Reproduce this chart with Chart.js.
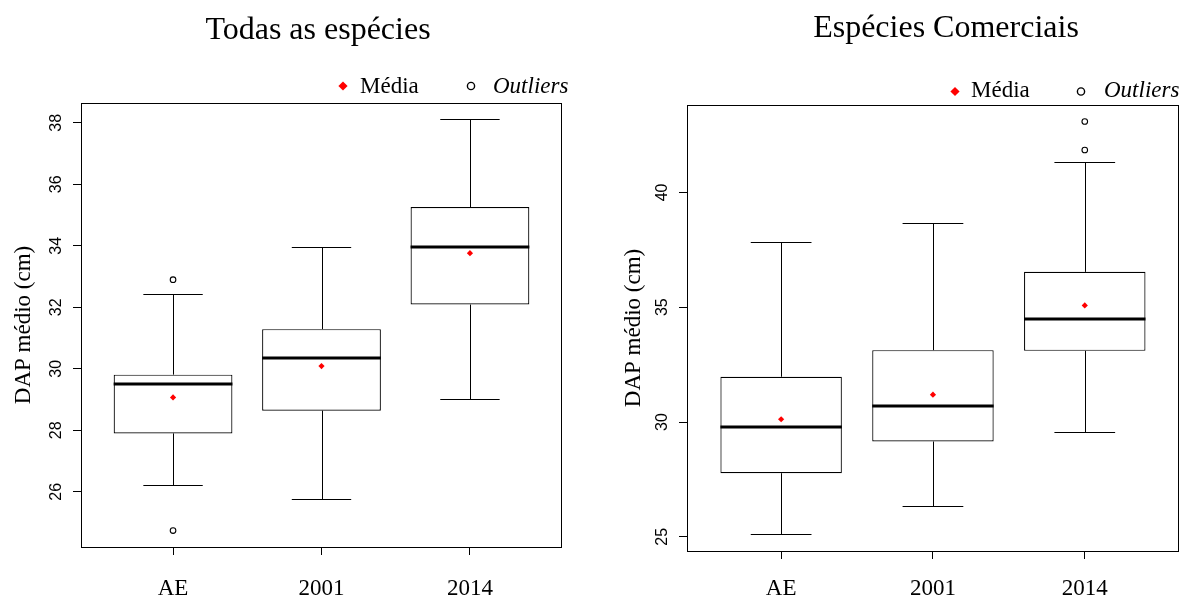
<!DOCTYPE html>
<html>
<head>
<meta charset="utf-8">
<script src="https://cdn.jsdelivr.net/npm/chart.js@4.4.1/dist/chart.umd.min.js"></script>
<style>
  html, body { margin: 0; padding: 0; background: #fff; }
  #wrap { position: relative; width: 1184px; height: 595px; overflow: hidden; }
  canvas { position: absolute; top: 0; }
</style>
</head>
<body>
<div id="wrap">
  <canvas id="todasChart" width="592" height="595" style="left:0"></canvas>
  <canvas id="comChart" width="592" height="595" style="left:592px"></canvas>
</div>
<script>
// Box plot summaries (DAP médio, cm)
const categories = ['AE', '2001', '2014'];

// Todas as espécies
const todasMin = [26.23, 25.76, 29.03];
const todasQ1 = [27.90, 28.64, 32.09];
const todasMedian = [29.49, 30.34, 33.95];
const todasQ3 = [29.81, 31.29, 35.26];
const todasMax = [32.43, 33.95, 38.11];
const todasMean = [29.07, 30.09, 33.76];
const todasOutliers = [[24.74, 32.90], [], []];
const todasTicks = [26, 28, 30, 32, 34, 36, 38];

// Espécies Comerciais
const comMin = [25.10, 26.32, 29.57];
const comQ1 = [27.77, 29.15, 33.10];
const comMedian = [29.79, 30.71, 34.50];
const comQ3 = [31.97, 33.13, 36.54];
const comMax = [37.86, 38.66, 41.34];
const comMean = [30.12, 31.19, 35.08];
const comOutliers = [[], [], [41.85, 43.09]];
const comTicks = [25, 30, 35, 40];

const SERIF = "'Liberation Serif', 'Times New Roman', serif";
const SANS = "'Liberation Sans', Arial, sans-serif";

function crisp(v) { return Math.round(v) + 0.5; }

function makeBoxChart(canvasId, title, stats, yTicks, lay) {
  const allVals = stats.min.concat(stats.max, stats.outliers.flat());
  const lo = Math.min(...allVals), hi = Math.max(...allVals);
  const pad = (hi - lo) * 0.04;
  const n = categories.length;

  const boxData = categories.map((c, i) => ({ x: i + 1, y: [stats.q1[i], stats.q3[i]] }));
  const meanData = stats.mean.map((v, i) => ({ x: i + 1, y: v }));
  const outlierData = stats.outliers.flatMap((vals, i) => vals.map(v => ({ x: i + 1, y: v })));

  // whiskers, caps and medians drawn right after the boxes
  const boxPlugin = {
    id: 'boxWhiskers',
    afterDatasetDraw(chart, args) {
      if (args.index !== 0) return;
      const { ctx, scales: { x, y } } = chart;
      ctx.save();
      ctx.strokeStyle = '#000';
      categories.forEach((c, i) => {
        const cx = crisp(x.getPixelForValue(i + 1));
        const capL = x.getPixelForValue(i + 1 - 0.2);
        const capR = x.getPixelForValue(i + 1 + 0.2);
        const boxL = x.getPixelForValue(i + 1 - 0.4);
        const boxR = x.getPixelForValue(i + 1 + 0.4);
        const yMax = crisp(y.getPixelForValue(stats.max[i]));
        const yMin = crisp(y.getPixelForValue(stats.min[i]));
        ctx.lineWidth = 1;
        ctx.beginPath();
        ctx.moveTo(cx, y.getPixelForValue(stats.q3[i]));
        ctx.lineTo(cx, yMax);
        ctx.moveTo(capL, yMax);
        ctx.lineTo(capR, yMax);
        ctx.moveTo(cx, y.getPixelForValue(stats.q1[i]));
        ctx.lineTo(cx, yMin);
        ctx.moveTo(capL, yMin);
        ctx.lineTo(capR, yMin);
        ctx.stroke();
        ctx.lineWidth = 3;
        ctx.beginPath();
        const ym = Math.round(y.getPixelForValue(stats.median[i]));
        ctx.moveTo(boxL, ym);
        ctx.lineTo(boxR, ym);
        ctx.stroke();
      });
      ctx.restore();
    },
    afterDraw(chart) {
      const { ctx, chartArea: a, scales: { y } } = chart;
      ctx.save();
      // frame
      ctx.strokeStyle = '#000';
      ctx.lineWidth = 1;
      ctx.strokeRect(crisp(a.left), crisp(a.top), Math.round(a.right) - Math.round(a.left) - 1, Math.round(a.bottom) - Math.round(a.top));
      ctx.fillStyle = '#000';
      // title
      ctx.font = '32px ' + SERIF;
      ctx.textAlign = 'center';
      ctx.textBaseline = 'alphabetic';
      ctx.fillText(title, lay.titleX, lay.titleY);
      // y tick labels, rotated like R
      ctx.font = '16px ' + SANS;
      ctx.textBaseline = 'middle';
      y.ticks.forEach(t => {
        ctx.save();
        ctx.translate(lay.tickLabelX, y.getPixelForValue(t.value));
        ctx.rotate(-Math.PI / 2);
        ctx.fillText(String(t.value), 0, 0);
        ctx.restore();
      });
      // y title
      ctx.font = '23px ' + SERIF;
      ctx.save();
      ctx.translate(lay.yTitleX, (a.top + a.bottom) / 2);
      ctx.rotate(-Math.PI / 2);
      ctx.fillText('DAP médio (cm)', 0, 0);
      ctx.restore();
      // legend
      const ly = lay.legendY;
      ctx.fillStyle = '#ff0000';
      ctx.beginPath();
      ctx.moveTo(lay.diamondX, ly - 4.6);
      ctx.lineTo(lay.diamondX + 4.6, ly);
      ctx.lineTo(lay.diamondX, ly + 4.6);
      ctx.lineTo(lay.diamondX - 4.6, ly);
      ctx.closePath();
      ctx.fill();
      ctx.strokeStyle = '#000';
      ctx.lineWidth = 1.4;
      ctx.beginPath();
      ctx.arc(lay.circleX, ly, 3.6, 0, Math.PI * 2);
      ctx.stroke();
      ctx.fillStyle = '#000';
      ctx.textAlign = 'left';
      ctx.textBaseline = 'alphabetic';
      ctx.font = '23px ' + SERIF;
      ctx.fillText('Média', lay.mediaX, lay.legendBase);
      ctx.font = 'italic 23px ' + SERIF;
      ctx.fillText('Outliers', lay.outX, lay.legendBase);
      ctx.restore();
    }
  };

  const W = 592, H = 595;
  return new Chart(document.getElementById(canvasId), {
    type: 'bar',
    data: {
      datasets: [
        {
          type: 'bar',
          data: boxData,
          backgroundColor: '#ffffff',
          borderColor: '#000000',
          borderWidth: 1.2,
          borderSkipped: false,
          barPercentage: 1,
          categoryPercentage: 0.8,
          order: 3
        },
        {
          type: 'scatter',
          data: outlierData,
          pointStyle: 'circle',
          pointRadius: 2.8,
          pointBackgroundColor: '#ffffff',
          pointBorderColor: '#000000',
          pointBorderWidth: 1.1,
          order: 2
        },
        {
          type: 'scatter',
          data: meanData,
          pointStyle: 'rectRot',
          pointRadius: 3.1,
          pointBackgroundColor: '#ff0000',
          pointBorderColor: '#ff0000',
          pointBorderWidth: 0,
          order: 1
        }
      ]
    },
    options: {
      responsive: false,
      animation: false,
      events: [],
      layout: { padding: { left: 0, top: lay.top, right: W - lay.right, bottom: 0 } },
      plugins: {
        legend: { display: false },
        tooltip: { enabled: false },
        title: { display: false }
      },
      scales: {
        x: {
          type: 'linear',
          offset: false,
          min: 0.5 - 0.04 * n,
          max: n + 0.5 + 0.04 * n,
          afterBuildTicks: s => { s.ticks = categories.map((c, i) => ({ value: i + 1 })); },
          afterFit: s => { s.height = H - lay.bottom; },
          ticks: {
            autoSkip: false,
            maxRotation: 0,
            padding: lay.xPad,
            color: '#000',
            font: { family: SERIF, size: 23 },
            callback: (v, i) => categories[i]
          },
          grid: { drawOnChartArea: false, drawTicks: true, tickLength: 8, color: '#000', offset: false },
          border: { display: false }
        },
        y: {
          type: 'linear',
          min: lo - pad,
          max: hi + pad,
          afterBuildTicks: s => { s.ticks = yTicks.map(v => ({ value: v })); },
          afterFit: s => { s.width = lay.left; },
          ticks: { display: false },
          grid: { drawOnChartArea: false, drawTicks: true, tickLength: 8, color: '#000' },
          border: { display: false }
        }
      }
    },
    plugins: [boxPlugin]
  });
}

makeBoxChart('todasChart', 'Todas as espécies',
  { min: todasMin, q1: todasQ1, median: todasMedian, q3: todasQ3, max: todasMax, mean: todasMean, outliers: todasOutliers },
  todasTicks,
  { left: 81, top: 103, right: 562, bottom: 547, titleX: 318, titleY: 39,
    tickLabelX: 57, yTitleX: 24, xPad: 20,
    legendY: 86, legendBase: 93, diamondX: 343, mediaX: 360, circleX: 471, outX: 493 });

makeBoxChart('comChart', 'Espécies Comerciais',
  { min: comMin, q1: comQ1, median: comMedian, q3: comQ3, max: comMax, mean: comMean, outliers: comOutliers },
  comTicks,
  { left: 95, top: 105, right: 592, bottom: 551, titleX: 354, titleY: 37,
    tickLabelX: 71, yTitleX: 42, xPad: 16,
    legendY: 91.5, legendBase: 97, diamondX: 363, mediaX: 379, circleX: 489, outX: 512 });
</script>
</body>
</html>
